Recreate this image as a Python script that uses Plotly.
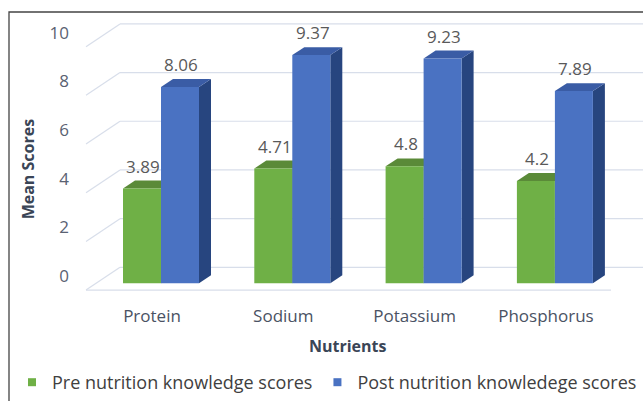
import plotly.graph_objects as go

# ---- data ----
categories = ["Protein", "Sodium", "Potassium", "Phosphorus"]
pre_scores = [3.89, 4.71, 4.8, 4.2]
post_scores = [8.06, 9.37, 9.23, 7.89]
series_names = ["Pre nutrition knowledge scores", "Post nutrition knowledege scores"]
y_ticks = [0, 2, 4, 6, 8, 10]
x_title = "Nutrients"
y_title = "Mean Scores"

# ---- geometry / style ----
W, H = 643, 401
ML, MR, MT, MB = 84, 0, 14, 100
PW, PH = W - ML - MR, H - MT - MB
PX_CAT = 131.3      # pixels per category
PX_UNIT = 24.6      # pixels per score unit
X0 = -(161 - ML) / PX_CAT
X1 = X0 + PW / PX_CAT
Y0 = -((H - MB) - 286) / PX_UNIT
Y1 = Y0 + PH / PX_UNIT

def xd(px):  # pixel -> x data
    return X0 + (px - ML) / PX_CAT

def px_paper_x(px):
    return (px - ML) / PW

def px_paper_y(py):
    return ((H - MB) - py) / PH

BW = 38 / PX_CAT
DX = 12 / PX_CAT
DY = 8 / PX_UNIT
FRONT_OFF = -7 / PX_UNIT
BACK_OFF = 16 / PX_UNIT

GREEN, GREEN_TOP, GREEN_SIDE = "#6FB046", "#5A8A38", "#4F7D33"
BLUE, BLUE_TOP, BLUE_SIDE = "#4A72C2", "#3A5CA5", "#27457F"
GRID = "#D8DEEA"
FONT = "Open Sans"

xs = list(range(len(categories)))
fig = go.Figure()

series = [(pre_scores, GREEN, GREEN_TOP, GREEN_SIDE, -BW),
          (post_scores, BLUE, BLUE_TOP, BLUE_SIDE, 0.0)]

for (vals, col, _, _, off), name in zip(series, series_names):
    fig.add_trace(go.Bar(x=xs, y=vals, width=BW, offset=off, name=name,
                         marker=dict(color=col, line=dict(width=0)),
                         showlegend=False, hoverinfo="y"))
    fig.add_trace(go.Scatter(x=[None], y=[None], mode="markers", name=name,
                             marker=dict(symbol="square", size=8, color=col)))

shapes = []
# gridlines (3D wall)
fx, bx = xd(86), xd(120)
for v in y_ticks:
    shapes.append(dict(type="line", xref="x", yref="y", x0=fx, y0=v + FRONT_OFF,
                       x1=bx, y1=v + BACK_OFF, line=dict(color=GRID, width=1.2), layer="below"))
    shapes.append(dict(type="line", xref="x", yref="y", x0=bx, y0=v + BACK_OFF,
                       x1=X1, y1=v + BACK_OFF, line=dict(color=GRID, width=1.2), layer="below"))
shapes.append(dict(type="line", xref="x", yref="y", x0=fx, y0=FRONT_OFF,
                   x1=xd(611), y1=FRONT_OFF, line=dict(color=GRID, width=1.2), layer="below"))

# 3D faces of bars
for vals, col, top, side, off in series:
    for i, v in zip(xs, vals):
        xl = i + off
        xr = xl + BW
        shapes.append(dict(type="path", xref="x", yref="y", layer="below",
                           path=f"M{xr},0 L{xr+DX},{DY} L{xr+DX},{v+DY} L{xr},{v} Z",
                           fillcolor=side, line=dict(width=0)))
        shapes.append(dict(type="path", xref="x", yref="y", layer="below",
                           path=f"M{xl},{v} L{xl+DX},{v+DY} L{xr+DX},{v+DY} L{xr},{v} Z",
                           fillcolor=top, line=dict(width=0)))

# outer frame
shapes.append(dict(type="rect", xref="paper", yref="paper",
                   x0=px_paper_x(9), x1=px_paper_x(720), y0=px_paper_y(430), y1=px_paper_y(12),
                   line=dict(color="#444444", width=1.3), fillcolor="rgba(0,0,0,0)", layer="above"))

annotations = []
for vals, col, top, side, off in series:
    for i, v in zip(xs, vals):
        annotations.append(dict(x=i + off + BW / 2 + 0.01, y=v + DY, xref="x", yref="y",
                                text=f"{v:g}", showarrow=False, yanchor="bottom", yshift=1,
                                font=dict(family=FONT, size=17, color="#595959")))
annotations.append(dict(x=px_paper_x(348), y=px_paper_y(350), xref="paper", yref="paper",
                        xanchor="center", yanchor="middle",
                        text=f"<b>{x_title}</b>", showarrow=False,
                        font=dict(family=FONT, size=16, color="#3A4556")))
annotations.append(dict(x=px_paper_x(28), y=px_paper_y(171), xref="paper", yref="paper",
                        xanchor="center", yanchor="middle",
                        text=f"<b>{y_title}</b>", showarrow=False, textangle=-90,
                        font=dict(family=FONT, size=16, color="#3A4556")))

fig.update_layout(
    width=W, height=H, margin=dict(l=ML, r=MR, t=MT, b=MB),
    paper_bgcolor="white", plot_bgcolor="white",
    barmode="overlay",
    shapes=shapes, annotations=annotations,
    font=dict(family=FONT, color="#404040"),
    xaxis=dict(range=[X0, X1], tickvals=xs, ticktext=categories, showgrid=False,
               zeroline=False, showline=False, ticks="", ticklabelshift=-9,
               ticklabelstandoff=6, tickfont=dict(family=FONT, size=17, color="#4A5263")),
    yaxis=dict(range=[Y0, Y1], tickvals=y_ticks, showgrid=False, zeroline=False,
               showline=False, ticks="", ticklabelshift=-7, ticklabelstandoff=14,
               tickfont=dict(family=FONT, size=17, color="#5A6272")),
    legend=dict(orientation="h", x=px_paper_x(12), y=px_paper_y(387), xanchor="left",
                yanchor="middle", font=dict(family=FONT, size=18, color="#404040"),
                itemclick=False, bgcolor="rgba(0,0,0,0)"),
    showlegend=True,
)

fig.write_html("out.html")
